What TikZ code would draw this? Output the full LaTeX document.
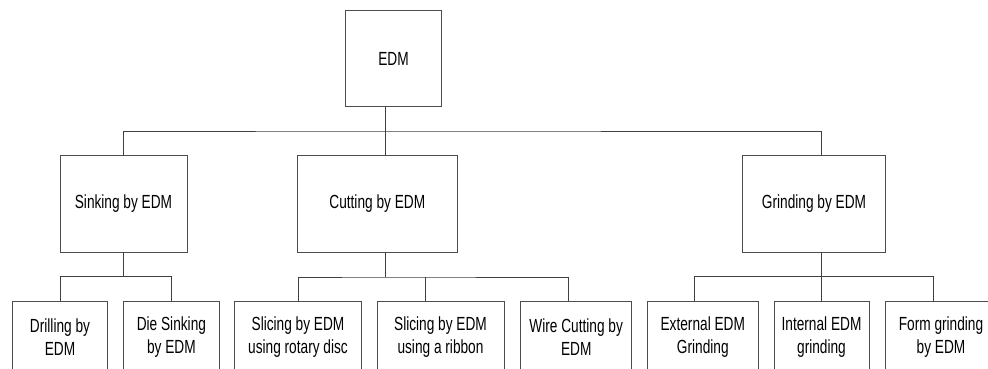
\documentclass[tikz,border=0pt]{standalone}
\usepackage{fontspec}
\setmainfont[FakeStretch=0.72]{Liberation Sans}
\begin{document}
\begin{tikzpicture}[x=1pt, y=-1pt,
    box/.style={draw=black!70, line width=0.9pt, align=center, inner sep=0pt,
        font=\fontsize{19}{23}\selectfont},
    leaf/.style={box, anchor=north, minimum height=71},
    link/.style={draw=black!75, line width=0.9pt}]
    \useasboundingbox (0,0) rectangle (988,369);
    \clip (0,0) rectangle (988,369);
    % root and the three families
    \node[box, minimum width=95.6, minimum height=96] (edm) at (393.5, 58.7) {EDM};
    \node[box, minimum width=127, minimum height=97.3] (sink) at (123.5, 203.7) {Sinking by EDM};
    \node[box, minimum width=159.3, minimum height=97.3] (cut) at (377.3, 203.7) {Cutting by EDM};
    \node[box, minimum width=143.4, minimum height=97.3] (grind) at (814, 203.7) {Grinding by EDM};
    % processes
    \node[leaf, minimum width=94.6] (drill) at (60, 300.7) {Drilling by\\EDM};
    \node[leaf, minimum width=95.3] (die) at (171.4, 300.7) {Die Sinking\\by EDM};
    \node[leaf, minimum width=127.4] (rotary) at (298, 300.7) {Slicing by EDM\\using rotary disc};
    \node[leaf, minimum width=127] (ribbon) at (440.5, 300.7) {Slicing by EDM\\using a ribbon};
    \node[leaf, minimum width=111] (wire) at (576.2, 300.7) {Wire Cutting by\\EDM};
    \node[leaf, minimum width=111] (ext) at (702.8, 300.7) {External EDM\\Grinding};
    \node[leaf, minimum width=95] (int) at (821.5, 300.7) {Internal EDM\\grinding};
    \node[leaf, minimum width=112] (form) at (941, 300.7) {Form grinding\\by EDM};
    % junctions
    \coordinate (top) at (385, 131);
    \coordinate (sinkbus) at (123.3, 276.7);
    \coordinate (cutbus) at (385, 277);
    \coordinate (grindbus) at (821.7, 276.7);
    % tree lines
    \draw[link] (edm.south -| top) -- (top);
    \draw[link] (sink.north) |- (top) -| ([xshift=7.7pt]grind.north);
    \draw[link] (top) -- (cut.north -| top);
    \draw[link] (sink.south -| sinkbus) -- (sinkbus);
    \draw[link] (drill.north) |- (sinkbus) -| (die.north);
    \draw[link] (cut.south -| cutbus) -- (cutbus);
    \draw[link] (rotary.north) |- (cutbus) -| ([xshift=-8pt]wire.north);
    \draw[link] ([xshift=-15.5pt]ribbon.north) -- ([xshift=-15.5pt]ribbon.north |- cutbus);
    \draw[link] (grind.south -| grindbus) -- (grindbus);
    \draw[link] ([xshift=-8pt]ext.north) |- (grindbus) -| ([xshift=-7.7pt]form.north);
    \draw[link] (int.north) -- (int.north |- grindbus);
\end{tikzpicture}
\end{document}
